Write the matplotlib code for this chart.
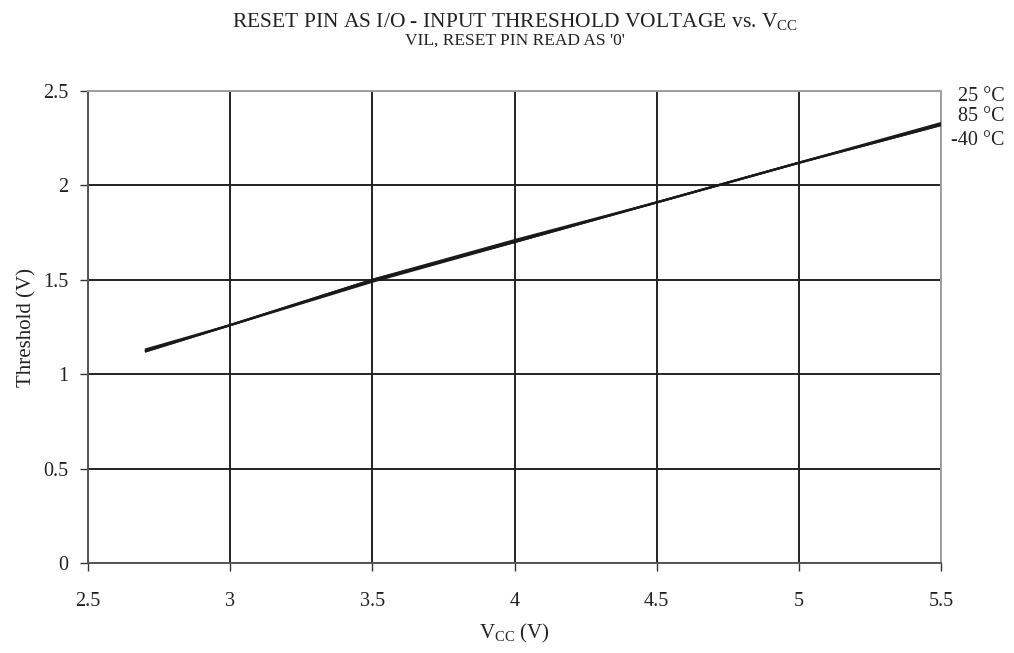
## --- RESET PIN INPUT THRESHOLD vs VCC --- ##
import matplotlib
matplotlib.use('Agg')
import matplotlib.pyplot as plt

# -- DATA -- #
vcc = [2.7, 3.0, 3.5, 4.0, 4.5, 5.0, 5.5]
th_25 = [1.12, 1.26, 1.50, 1.71, 1.91, 2.12, 2.33]
th_85 = [1.12, 1.26, 1.49, 1.70, 1.91, 2.12, 2.32]
th_m40 = [1.13, 1.26, 1.50, 1.70, 1.91, 2.12, 2.32]
labels = ['25 °C', '85 °C', '-40 °C']

plt.rcParams['font.family'] = ['Liberation Serif', 'DejaVu Serif']
plt.rcParams['mathtext.fontset'] = 'custom'
plt.rcParams['mathtext.rm'] = 'Liberation Serif'

fig = plt.figure(figsize=(10.14, 6.53), dpi=100)
ax = fig.add_axes([0.0868, 0.1378, 0.8412, 0.7228])

for ys in (th_25, th_85, th_m40):
    ax.plot(vcc, ys, '-', color='#1a1a1a', linewidth=1.6, solid_capstyle='butt', zorder=3)

ax.set_xlim(2.5, 5.5)
ax.set_ylim(0, 2.5)
ax.set_xticks([2.5, 3, 3.5, 4, 4.5, 5, 5.5])
ax.set_xticklabels(['2.5', '3', '3.5', '4', '4.5', '5', '5.5'])
ax.set_yticks([0, 0.5, 1, 1.5, 2, 2.5])
ax.set_yticklabels(['0', '0.5', '1', '1.5', '2', '2.5'])
ax.grid(True, color='#222222', linewidth=1.4)
ax.tick_params(axis='both', labelsize=14.5, colors='#333333', labelcolor='#222222',
               direction='out', length=6, width=1.0)
ax.tick_params(axis='x', pad=15)
ax.tick_params(axis='y', pad=8)

ax.spines['left'].set_color('#555555')
ax.spines['bottom'].set_color('#555555')
ax.spines['top'].set_color('#a0a0a0')
ax.spines['right'].set_color('#a0a0a0')
for s in ax.spines.values():
    s.set_linewidth(1.4)

ax.set_xlabel(r'V$_{\mathrm{CC}}$ (V)', fontsize=15, color='#222222', labelpad=8)
ax.set_ylabel('Threshold (V)', fontsize=15, color='#222222', labelpad=5)

# -- TITLES -- #
fig.text(0.5075, 0.966, r'RESET PIN AS I/O - INPUT THRESHOLD VOLTAGE vs. V$_{\mathrm{CC}}$',
         ha='center', va='center', fontsize=15.5, color='#222222')
fig.text(0.5075, 0.937, "VIL, RESET PIN READ AS '0'",
         ha='center', va='center', fontsize=12.5, color='#222222')

# -- SERIES LABELS -- #
for lab, yf in zip(labels, [0.989, 0.945, 0.896]):
    ax.text(1.075, yf, lab, transform=ax.transAxes, ha='right', va='center',
            fontsize=14.5, color='#222222')

fig.savefig('out.png', dpi=100)
